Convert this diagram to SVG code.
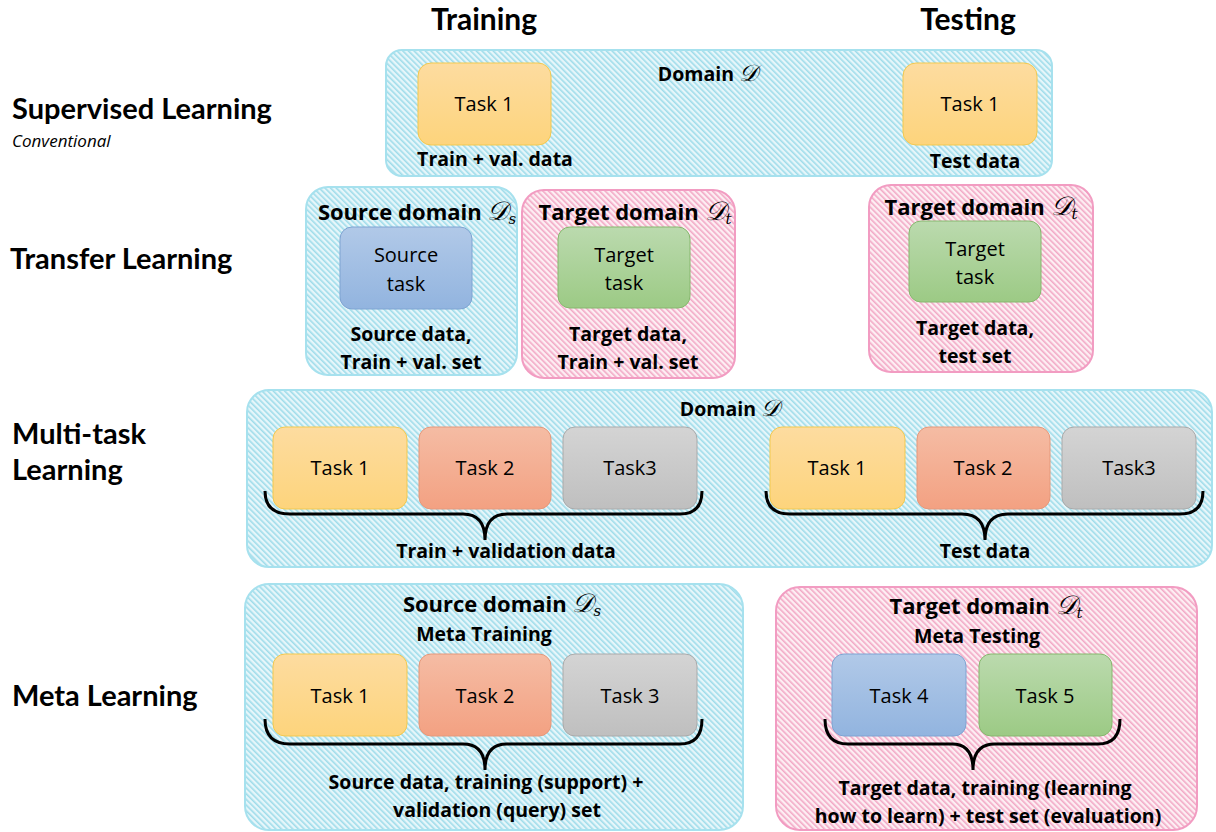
<svg xmlns="http://www.w3.org/2000/svg" width="1216" height="832" viewBox="0 0 1216 832">
<defs>
<pattern id="hatchC" width="4" height="4" patternUnits="userSpaceOnUse" patternTransform="rotate(-45)">
<rect width="4" height="4" fill="#e6f6fa"/>
<rect width="1.6" height="4" fill="#9fdcea"/>
</pattern>
<pattern id="hatchP" width="4" height="4" patternUnits="userSpaceOnUse" patternTransform="rotate(-45)">
<rect width="4" height="4" fill="#fdeef3"/>
<rect width="1.6" height="4" fill="#f2a9c6"/>
</pattern>
<linearGradient id="gY" x1="0" y1="0" x2="0" y2="1"><stop offset="0" stop-color="#fddca0"/><stop offset="1" stop-color="#fdd47c"/></linearGradient>
<linearGradient id="gS" x1="0" y1="0" x2="0" y2="1"><stop offset="0" stop-color="#f5bca4"/><stop offset="1" stop-color="#f3a182"/></linearGradient>
<linearGradient id="gG" x1="0" y1="0" x2="0" y2="1"><stop offset="0" stop-color="#d4d4d4"/><stop offset="1" stop-color="#bfbfbf"/></linearGradient>
<linearGradient id="gB" x1="0" y1="0" x2="0" y2="1"><stop offset="0" stop-color="#b1c9e8"/><stop offset="1" stop-color="#92b4df"/></linearGradient>
<linearGradient id="gN" x1="0" y1="0" x2="0" y2="1"><stop offset="0" stop-color="#bbdaae"/><stop offset="1" stop-color="#9cca85"/></linearGradient>
</defs>
<style>
text{font-family:"Open Sans","Noto Sans","Liberation Sans",sans-serif;fill:#000}
.hd{font-family:Lato,"Open Sans",sans-serif;font-size:30px;font-weight:bold;text-anchor:middle}
.row{font-family:Lato,"Open Sans",sans-serif;font-size:29px;font-weight:bold}
.it{font-size:17px;font-style:italic}
.dom{stroke:#a6e1ee;stroke-width:2;fill:url(#hatchC)}
.pdom{stroke:#f29cc2;stroke-width:2;fill:url(#hatchP)}
.y{fill:url(#gY);stroke:#f3c94e;stroke-width:1}
.s{fill:url(#gS);stroke:#e6987a;stroke-width:1}
.g{fill:url(#gG);stroke:#aaaaaa;stroke-width:1}
.b{fill:url(#gB);stroke:#7ea4d2;stroke-width:1}
.n{fill:url(#gN);stroke:#86b86e;stroke-width:1}
.tk{font-size:20px;text-anchor:middle}
.lb{font-size:19.5px;font-weight:bold;text-anchor:middle}
.tt{font-size:22px;font-weight:bold;text-anchor:middle}
.m{font-family:"DejaVu Serif","Liberation Serif",serif;font-style:italic;font-weight:normal;font-size:1.2em}
.brace{fill:none;stroke:#000;stroke-width:3}
</style>

<g id="headers">
<text class="hd" x="484" y="30">Training</text>
<text class="hd" x="968" y="30">Testing</text>
</g>
<g id="row-labels">
<text class="row" x="12" y="119">Supervised Learning</text>
<text class="it" x="12" y="147">Conventional</text>
<text class="row" x="10" y="269">Transfer Learning</text>
<text class="row" x="12" y="444">Multi-task</text>
<text class="row" x="12" y="480">Learning</text>
<text class="row" x="12" y="706">Meta Learning</text>
</g>

<g id="supervised-domain">
<rect class="dom" x="386" y="50" width="666" height="126" rx="16"/>
<text class="lb" x="708" y="81">Domain <tspan class="m">𝒟</tspan></text>
</g>
<g id="sup-train-task1">
<rect class="y" x="418" y="63" width="133" height="82" rx="13"/>
<text class="tk" x="484" y="111">Task 1</text>
<text class="lb" x="495" y="166">Train + val. data</text>
</g>
<g id="sup-test-task1">
<rect class="y" x="903" y="63" width="134" height="82" rx="13"/>
<text class="tk" x="970" y="111">Task 1</text>
<text class="lb" x="975" y="168">Test data</text>
</g>

<g id="tl-source-domain">
<rect class="dom" x="306" y="187" width="211" height="188" rx="22"/>
<text class="tt" x="417" y="220">Source domain <tspan class="m">𝒟<tspan font-size="15" dy="4">s</tspan></tspan></text>
<rect class="b" x="340" y="227" width="132" height="82" rx="12"/>
<text class="tk" x="406" y="262">Source</text>
<text class="tk" x="406" y="291">task</text>
<text class="lb" x="411" y="341">Source data,</text>
<text class="lb" x="411" y="369">Train + val. set</text>
</g>
<g id="tl-target-domain-train">
<rect class="pdom" x="522" y="190" width="213" height="188" rx="22"/>
<text class="tt" x="635" y="220">Target domain <tspan class="m">𝒟<tspan font-size="15" dy="4">t</tspan></tspan></text>
<rect class="n" x="558" y="227" width="132" height="81" rx="12"/>
<text class="tk" x="624" y="262">Target</text>
<text class="tk" x="624" y="290">task</text>
<text class="lb" x="628" y="341">Target data,</text>
<text class="lb" x="628" y="369">Train + val. set</text>
</g>
<g id="tl-target-domain-test">
<rect class="pdom" x="869" y="185" width="224" height="187" rx="22"/>
<text class="tt" x="981" y="215">Target domain <tspan class="m">𝒟<tspan font-size="15" dy="4">t</tspan></tspan></text>
<rect class="n" x="909" y="221" width="132" height="81" rx="12"/>
<text class="tk" x="975" y="256">Target</text>
<text class="tk" x="975" y="284">task</text>
<text class="lb" x="975" y="335">Target data,</text>
<text class="lb" x="975" y="363">test set</text>
</g>

<g id="mtl-domain">
<rect class="dom" x="247" y="390" width="965" height="177" rx="22"/>
<text class="lb" x="730" y="416">Domain <tspan class="m">𝒟</tspan></text>
</g>
<g id="mtl-train-tasks">
<rect class="y" x="273" y="427" width="134" height="82" rx="12"/>
<text class="tk" x="340" y="475">Task 1</text>
<rect class="s" x="419" y="427" width="132" height="82" rx="12"/>
<text class="tk" x="485" y="475">Task 2</text>
<rect class="g" x="563" y="427" width="134" height="82" rx="12"/>
<text class="tk" x="630" y="475">Task3</text>
<text class="lb" x="506" y="558">Train + validation data</text>
</g>
<g id="mtl-test-tasks">
<rect class="y" x="770" y="427" width="135" height="82" rx="12"/>
<text class="tk" x="837" y="475">Task 1</text>
<rect class="s" x="917" y="427" width="133" height="82" rx="12"/>
<text class="tk" x="983" y="475">Task 2</text>
<rect class="g" x="1062" y="427" width="134" height="82" rx="12"/>
<text class="tk" x="1129" y="475">Task3</text>
<text class="lb" x="985" y="558">Test data</text>
</g>

<g id="meta-source-domain">
<rect class="dom" x="245" y="584" width="498" height="246" rx="24"/>
<text class="tt" x="502" y="612">Source domain <tspan class="m">𝒟<tspan font-size="15" dy="4">s</tspan></tspan></text>
<text class="lb" x="484" y="641">Meta Training</text>
<rect class="y" x="273" y="654" width="134" height="82" rx="12"/>
<text class="tk" x="340" y="703">Task 1</text>
<rect class="s" x="419" y="654" width="132" height="82" rx="12"/>
<text class="tk" x="485" y="703">Task 2</text>
<rect class="g" x="563" y="654" width="134" height="82" rx="12"/>
<text class="tk" x="630" y="703">Task 3</text>
<text class="lb" x="486" y="789">Source data, training (support) +</text>
<text class="lb" x="497" y="817">validation (query) set</text>
</g>
<g id="meta-target-domain">
<rect class="pdom" x="776" y="587" width="421" height="243" rx="24"/>
<text class="tt" x="986" y="614">Target domain <tspan class="m">𝒟<tspan font-size="15" dy="4">t</tspan></tspan></text>
<text class="lb" x="977" y="643">Meta Testing</text>
<rect class="b" x="832" y="654" width="134" height="82" rx="12"/>
<text class="tk" x="899" y="703">Task 4</text>
<rect class="n" x="979" y="654" width="133" height="82" rx="12"/>
<text class="tk" x="1045" y="703">Task 5</text>
<text class="lb" x="985" y="795">Target data, training (learning</text>
<text class="lb" x="988" y="823">how to learn) + test set (evaluation)</text>
</g>

<g id="connectors">
<path class="brace" d="M265,491 Q265,514 290,514 L463,514 Q485,514 485,540 Q485,514 507,514 L680,514 Q702,514 702,491"/>
<path class="brace" d="M766,491 Q766,514 790,514 L962,514 Q985,514 985,540 Q985,514 1008,514 L1180,514 Q1203,514 1203,491"/>
<path class="brace" d="M265,719 Q265,744 290,744 L463,744 Q485,744 485,770 Q485,744 507,744 L680,744 Q702,744 702,719"/>
<path class="brace" d="M825,719 Q825,744 848,744 L952,744 Q973,744 973,770 Q973,744 995,744 L1098,744 Q1120,744 1120,719"/>
</g>
</svg>
